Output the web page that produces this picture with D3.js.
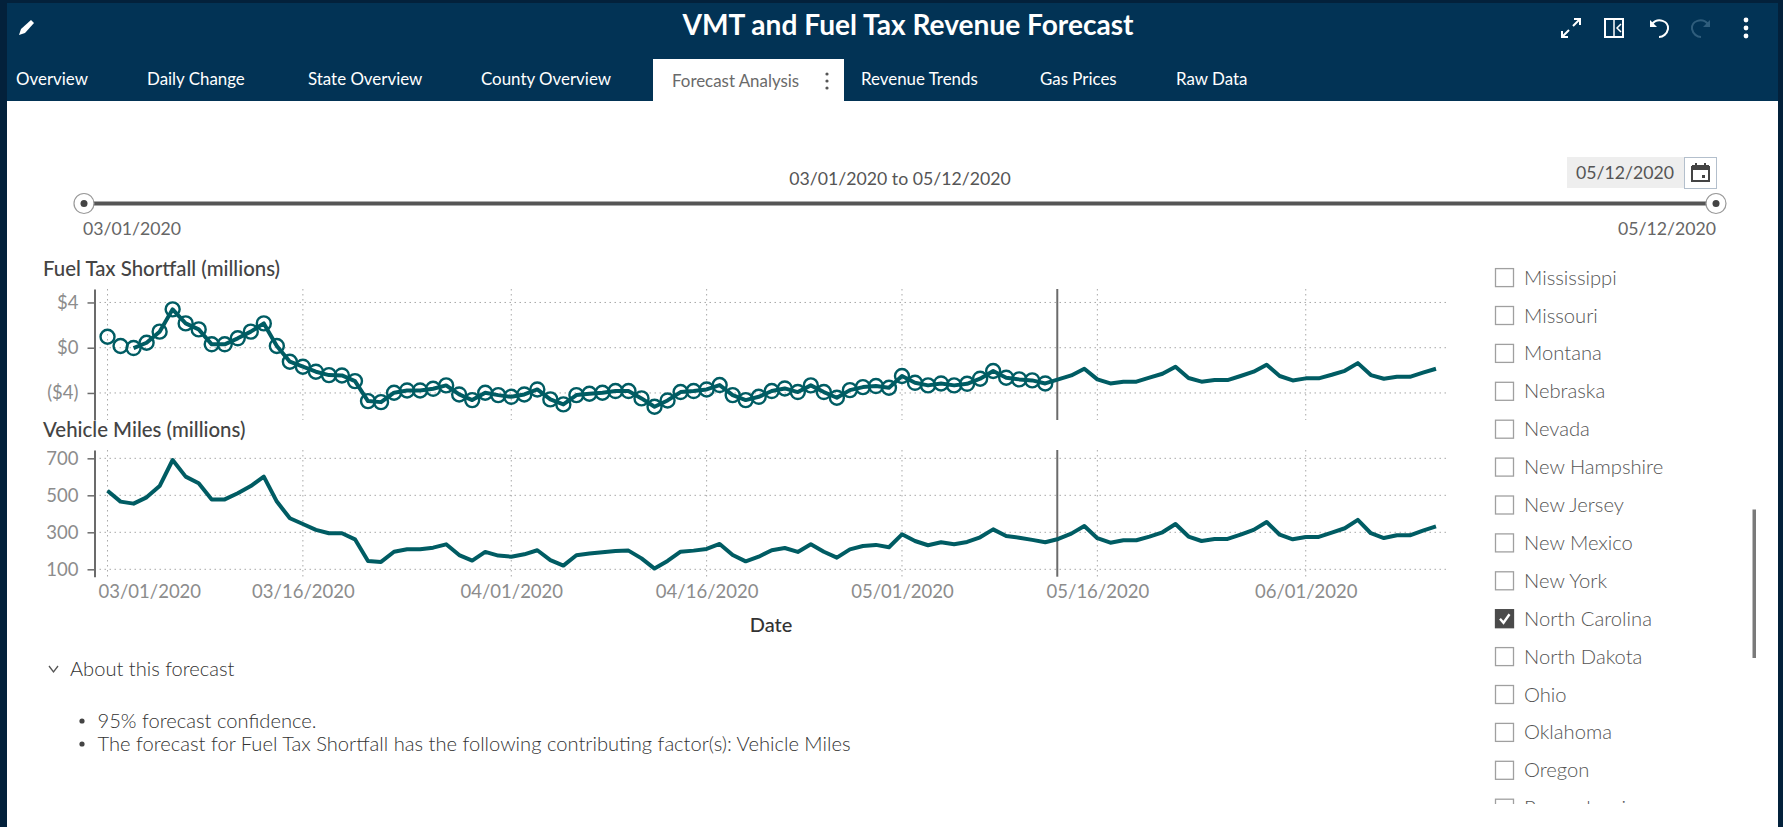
<!DOCTYPE html>
<html>
<head>
<meta charset="utf-8">
<title>VMT and Fuel Tax Revenue Forecast</title>
<script src="https://cdn.jsdelivr.net/npm/d3@7"></script>
<style>
html, body { margin: 0; padding: 0; background: #03213b; overflow: hidden; }
svg { display: block; }
text { font-family: Lato, "Open Sans", sans-serif; }
.grid { stroke: #a8a8a8; stroke-width: 1; stroke-dasharray: 1.5 3.5; }
.axis path, .axis line { stroke: #6b6b6b; }
.axis path { stroke-width: 2; }
.axis line { stroke-width: 1.5; }
.axis text { fill: #8c8c8c; font-size: 18.5px; font-family: Lato, sans-serif; }
</style>
</head>
<body>
<svg width="1783" height="827"></svg>
<script>
const tabs = ["Overview", "Daily Change", "State Overview", "County Overview", "Forecast Analysis", "Revenue Trends", "Gas Prices", "Raw Data"];
const tabStarts = [16, 147, 308, 481, 672, 861, 1040, 1176];
const activeTab = "Forecast Analysis";

const states = ["Mississippi", "Missouri", "Montana", "Nebraska", "Nevada", "New Hampshire", "New Jersey", "New Mexico", "New York", "North Carolina", "North Dakota", "Ohio", "Oklahoma", "Oregon", "Pennsylvania"];
const checkedState = "North Carolina";

const notes = ["95% forecast confidence.", "The forecast for Fuel Tax Shortfall has the following contributing factor(s): Vehicle Miles"];

// daily values from 03/01/2020 to 06/11/2020
const taxValues = [
    0.97, 0.15, -0.03, 0.44, 1.42, 3.39, 2.15, 1.62, 0.3, 0.3, 0.83, 1.42, 2.15, 0.15, -1.24, -1.68, -2.12, -2.42, -2.45, -2.95,
    -4.72, -4.81, -3.98, -3.78, -3.78, -3.63, -3.33, -4.13, -4.63, -3.98, -4.19, -4.34, -4.13, -3.69, -4.57, -5.01, -4.19, -4.07, -3.98, -3.83,
    -3.83, -4.48, -5.22, -4.66, -3.92, -3.83, -3.69, -3.3, -4.19, -4.63, -4.34, -3.83, -3.6, -3.92, -3.33, -3.92, -4.42, -3.75, -3.48, -3.39,
    -3.54, -2.5, -3.1, -3.33, -3.16, -3.33, -3.19, -2.74, -2.06, -2.65, -2.8, -2.89, -3.16, -2.8, -2.45, -1.86, -2.8, -3.16, -3.0, -3.0,
    -2.65, -2.3, -1.68, -2.68, -3.0, -2.86, -2.86, -2.5, -2.12, -1.5, -2.5, -2.89, -2.71, -2.71, -2.39, -2.04, -1.36, -2.42, -2.74, -2.57,
    -2.57, -2.21, -1.86
];
const milesValues = [
    525, 466, 455, 489, 550, 691, 601, 565, 478, 478, 511, 550, 601, 466, 376, 345, 313, 295, 295, 262,
    145, 140, 195, 208, 208, 217, 235, 177, 147, 194, 174, 168, 181, 203, 150, 120, 176, 185, 192, 199,
    201, 159, 104, 145, 195, 201, 210, 237, 177, 143, 168, 203, 215, 194, 235, 195, 163, 208, 226, 232,
    219, 289, 253, 230, 246, 235, 248, 273, 316, 280, 271, 259, 246, 264, 293, 334, 268, 244, 257, 257,
    277, 300, 345, 277, 253, 264, 264, 287, 313, 356, 287, 262, 275, 275, 298, 322, 367, 295, 269, 284,
    284, 309, 332
];
const actualCount = 73;    // points up to 05/12 have markers
const taxLineStart = 2;    // the tax line is not drawn for the first two days

const startDay = Date.UTC(2020, 2, 1);
const dayMs = 24 * 3600 * 1000;
const dates = taxValues.map((d, i) => new Date(startDay + i * dayMs));
const xTickDates = [[2020, 2, 1], [2020, 2, 16], [2020, 3, 1], [2020, 3, 16], [2020, 4, 1], [2020, 4, 16], [2020, 5, 1]].map(d => new Date(Date.UTC(...d)));
const forecastStart = new Date(Date.UTC(2020, 4, 13));
const taxTicks = [4, 0, -4];
const milesTicks = [700, 500, 300, 100];

const teal = "#005c63";
const svg = d3.select("svg");

// page frame
svg.append("rect").attr("x", 7).attr("y", 3).attr("width", 1771).attr("height", 98).attr("fill", "#023355");
svg.append("rect").attr("x", 7).attr("y", 101).attr("width", 1771).attr("height", 726).attr("fill", "#fff");

svg.append("text").attr("x", 908).attr("y", 35).attr("text-anchor", "middle")
    .attr("fill", "#fff").attr("font-size", 28.1).attr("font-weight", 700)
    .text("VMT and Fuel Tax Revenue Forecast");

// tabs
svg.append("rect").attr("x", 653).attr("y", 59).attr("width", 191).attr("height", 42).attr("fill", "#fff");
svg.selectAll(".tab").data(tabs).join("text")
    .attr("class", "tab")
    .attr("x", (d, i) => tabStarts[i])
    .attr("y", d => d === activeTab ? 87 : 85)
    .attr("font-size", 16.9)
    .attr("fill", d => d === activeTab ? "#6a6a6a" : "#fff")
    .text(d => d);
svg.selectAll(".tab-dot").data([-7, 0, 7]).join("circle")
    .attr("cx", 827).attr("cy", d => 81 + d).attr("r", 1.6).attr("fill", "#555");

// header icons
const icons = svg.append("g").attr("fill", "none").attr("stroke", "#fff").attr("stroke-width", 2);
icons.append("path").attr("d", "M19 35 L21 29 L31 20 L34 23 L25 33 Z").attr("fill", "#fff").attr("stroke", "none");
icons.append("path").attr("d", "M1573 26 L1580 19 M1574 19 L1580 19 L1580 25 M1562 37 L1569 30 M1562 31 L1562 37 L1568 37");
icons.append("rect").attr("x", 1605).attr("y", 19).attr("width", 18).attr("height", 18);
icons.append("path").attr("d", "M1614 19 L1614 37").attr("stroke-width", 1.5);
icons.append("path").attr("d", "M1621 24 L1617 28 L1621 32").attr("stroke-width", 1.5);
icons.append("path").attr("d", "M1652 24 C1658 17 1669 21 1668 29 C1667 34 1663 37 1659 37");
icons.append("path").attr("d", "M1650 20 L1650 27 L1657 27 Z").attr("fill", "#fff").attr("stroke", "none");
icons.append("path").attr("d", "M1708 24 C1702 17 1691 21 1692 29 C1693 34 1697 37 1701 37").attr("stroke", "#2f5d7c");
icons.append("path").attr("d", "M1710 20 L1710 27 L1703 27 Z").attr("fill", "#2f5d7c").attr("stroke", "none");
svg.selectAll(".kebab").data([-8, 0, 8]).join("circle")
    .attr("cx", 1746).attr("cy", d => 28 + d).attr("r", 2.4).attr("fill", "#fff");

// date slider
svg.append("text").attr("x", 900).attr("y", 185).attr("text-anchor", "middle")
    .attr("font-size", 17.7).attr("fill", "#555").text("03/01/2020 to 05/12/2020");
svg.append("line").attr("x1", 84).attr("x2", 1716).attr("y1", 203.5).attr("y2", 203.5)
    .attr("stroke", "#555").attr("stroke-width", 4);
svg.selectAll(".handle").data([84, 1716]).join("g").attr("class", "handle")
    .attr("transform", d => `translate(${d},203.5)`)
    .call(g => g.append("circle").attr("r", 10).attr("fill", "#fff").attr("stroke", "#999").attr("stroke-width", 1.2))
    .call(g => g.append("circle").attr("r", 3.5).attr("fill", "#444"));
svg.append("text").attr("x", 83).attr("y", 235).attr("font-size", 17.7).attr("fill", "#666").text("03/01/2020");
svg.append("text").attr("x", 1716).attr("y", 235).attr("text-anchor", "end").attr("font-size", 17.7).attr("fill", "#666").text("05/12/2020");

// date box
svg.append("rect").attr("x", 1567).attr("y", 157).attr("width", 117).attr("height", 31).attr("fill", "#eeeeee");
svg.append("text").attr("x", 1576).attr("y", 179).attr("font-size", 17.7).attr("fill", "#555").text("05/12/2020");
svg.append("rect").attr("x", 1684.5).attr("y", 157.5).attr("width", 32).attr("height", 31).attr("fill", "#fff").attr("stroke", "#b3bfcc");
svg.append("rect").attr("x", 1692).attr("y", 167).attr("width", 17).attr("height", 14).attr("fill", "none").attr("stroke", "#444").attr("stroke-width", 2);
svg.append("rect").attr("x", 1692).attr("y", 165).attr("width", 17).attr("height", 5).attr("fill", "#444");
svg.append("rect").attr("x", 1695).attr("y", 163).attr("width", 2).attr("height", 3).attr("fill", "#444");
svg.append("rect").attr("x", 1704).attr("y", 163).attr("width", 2).attr("height", 3).attr("fill", "#444");
svg.append("rect").attr("x", 1702).attr("y", 175).attr("width", 3).attr("height", 3).attr("fill", "#444");

// charts
const xScale = d3.scaleUtc()
    .domain([new Date(Date.UTC(2020, 1, 29)), new Date(Date.UTC(2020, 5, 12))])
    .range([94.5, 1449]);
const yTax = d3.scaleLinear().domain([-6.39, 5.19]).range([420, 289]);
const yMiles = d3.scaleLinear().domain([60, 745]).range([576.7, 450]);

function drawGrid(yScale, ticks) {
    const [bottom, top] = yScale.range();
    svg.append("g").selectAll("line").data(ticks).join("line")
        .attr("class", "grid")
        .attr("x1", xScale.range()[0]).attr("x2", xScale.range()[1])
        .attr("y1", d => yScale(d)).attr("y2", d => yScale(d));
    svg.append("g").selectAll("line").data(xTickDates).join("line")
        .attr("class", "grid")
        .attr("x1", d => xScale(d)).attr("x2", d => xScale(d))
        .attr("y1", top).attr("y2", bottom);
    svg.append("line").attr("x1", xScale(forecastStart) - 1).attr("x2", xScale(forecastStart) - 1)
        .attr("y1", top).attr("y2", bottom)
        .attr("stroke", "#6b6b6b").attr("stroke-width", 2);
}

function drawYAxis(yScale, ticks, format) {
    const axis = d3.axisLeft(yScale).tickValues(ticks).tickSize(7).tickSizeOuter(0).tickPadding(9);
    if (format) axis.tickFormat(format);
    svg.append("g").attr("class", "axis")
        .attr("transform", `translate(${xScale.range()[0]},0)`)
        .call(axis);
}

drawGrid(yTax, taxTicks);
drawGrid(yMiles, milesTicks);
drawYAxis(yTax, taxTicks, d => d < 0 ? `($${-d})` : `$${d}`);
drawYAxis(yMiles, milesTicks, d3.format("d"));

// x labels only, the first one starts at the axis instead of being centred
const xAxis = svg.append("g").attr("class", "axis")
    .attr("transform", "translate(0,576.7)")
    .call(d3.axisBottom(xScale).tickValues(xTickDates).tickSize(0).tickPadding(8).tickFormat(d3.utcFormat("%m/%d/%Y")));
xAxis.select("path").remove();
xAxis.selectAll("text").filter((d, i) => i === 0)
    .attr("text-anchor", "start").attr("dx", 98 - xScale(xTickDates[0]));

const lineTax = d3.line()
    .defined((d, i) => i >= taxLineStart)
    .x((d, i) => xScale(dates[i]))
    .y(d => yTax(d))
    .curve(d3.curveLinear);
const lineMiles = d3.line()
    .x((d, i) => xScale(dates[i]))
    .y(d => yMiles(d))
    .curve(d3.curveLinear);

svg.append("g").selectAll("circle").data(taxValues.slice(0, actualCount)).join("circle")
    .attr("cx", (d, i) => xScale(dates[i]))
    .attr("cy", d => yTax(d))
    .attr("r", 7)
    .attr("fill", "none")
    .attr("stroke", teal)
    .attr("stroke-width", 2.4);
svg.append("path").datum(taxValues).attr("d", lineTax)
    .attr("fill", "none").attr("stroke", teal).attr("stroke-width", 4).attr("stroke-linejoin", "round");
svg.append("path").datum(milesValues).attr("d", lineMiles)
    .attr("fill", "none").attr("stroke", teal).attr("stroke-width", 4).attr("stroke-linejoin", "round");

svg.append("text").attr("x", 43).attr("y", 276).attr("font-size", 20.4).attr("font-weight", 500).attr("fill", "#444").text("Fuel Tax Shortfall (millions)");
svg.append("text").attr("x", 43).attr("y", 437).attr("font-size", 20.4).attr("font-weight", 500).attr("fill", "#444").text("Vehicle Miles (millions)");
svg.append("text").attr("x", 771).attr("y", 632).attr("text-anchor", "middle").attr("font-size", 20).attr("font-weight", 500).attr("fill", "#333").text("Date");

// state list
svg.append("clipPath").attr("id", "list-clip").append("rect")
    .attr("x", 1480).attr("y", 260).attr("width", 260).attr("height", 544);
const yState = d3.scalePoint().domain(states).range([277.6, 277.6 + 37.9 * (states.length - 1)]);
const rows = svg.append("g").attr("clip-path", "url(#list-clip)")
    .selectAll("g").data(states).join("g")
    .attr("transform", d => `translate(0,${yState(d)})`);
rows.append("rect").attr("x", 1495.5).attr("y", -9).attr("width", 18).attr("height", 18)
    .attr("fill", d => d === checkedState ? "#4a4a4a" : "#fff")
    .attr("stroke", d => d === checkedState ? "#4a4a4a" : "#a0a0a0").attr("stroke-width", 1.3);
rows.filter(d => d === checkedState).append("path")
    .attr("d", "M1500 0 L1503.5 4 L1509.5 -4.5")
    .attr("fill", "none").attr("stroke", "#fff").attr("stroke-width", 2.4);
rows.append("text").attr("x", 1524).attr("y", 7).attr("font-size", 20.2).attr("font-weight", 300).attr("fill", "#555").text(d => d);
svg.append("rect").attr("x", 1752.5).attr("y", 509.5).attr("width", 3.5).attr("height", 148.5).attr("fill", "#7a7a7a");

// about this forecast
svg.append("path").attr("d", "M49 666 L53.5 672 L58 666").attr("fill", "none").attr("stroke", "#555").attr("stroke-width", 1.3);
svg.append("text").attr("x", 70).attr("y", 676).attr("font-size", 20.1).attr("font-weight", 300).attr("fill", "#333").text("About this forecast");
const noteRows = svg.append("g").selectAll("g").data(notes).join("g")
    .attr("transform", (d, i) => `translate(0,${721 + i * 23})`);
noteRows.append("circle").attr("cx", 82).attr("cy", 0).attr("r", 2.6).attr("fill", "#444");
noteRows.append("text").attr("x", 97.5).attr("y", 7).attr("font-size", 20.15).attr("font-weight", 300).attr("fill", "#333").text(d => d);
</script>
</body>
</html>
